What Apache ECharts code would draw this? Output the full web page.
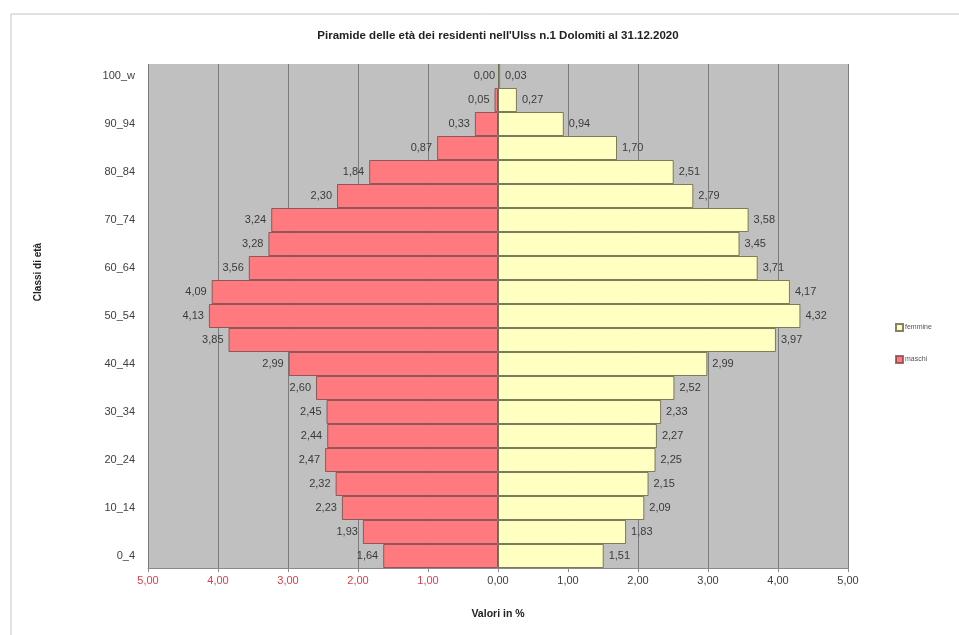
<!DOCTYPE html>
<html>
<head>
<meta charset="utf-8">
<script src="https://cdn.jsdelivr.net/npm/echarts@6/dist/echarts.min.js"></script>
<style>
  html, body { margin: 0; padding: 0; background: #ffffff; }
  #chart { width: 959px; height: 635px; }
</style>
</head>
<body>
<div id="chart"></div>
<script>
// Age classes, youngest first (bottom of the pyramid)
const classi = ['0_4','5_9','10_14','15_19','20_24','25_29','30_34','35_39','40_44','45_49',
  '50_54','55_59','60_64','65_69','70_74','75_79','80_84','85_89','90_94','95_99','100_w'];

// Share of residents in %, per class
const maschi = [1.64, 1.93, 2.23, 2.32, 2.47, 2.44, 2.45, 2.60, 2.99, 3.85,
  4.13, 4.09, 3.56, 3.28, 3.24, 2.30, 1.84, 0.87, 0.33, 0.05, 0.00];
const femmine = [1.51, 1.83, 2.09, 2.15, 2.25, 2.27, 2.33, 2.52, 2.99, 3.97,
  4.32, 4.17, 3.71, 3.45, 3.58, 2.79, 2.51, 1.70, 0.94, 0.27, 0.03];

const FONT = '"Liberation Sans", Arial, sans-serif';
const fmt = v => Math.abs(v).toFixed(2).replace('.', ',');

// Zero-width bars get no outline, so they leave no stray stroke on the axis
const asBar = (v, sign) => (v === 0
  ? { value: 0, itemStyle: { borderWidth: 0 } }
  : { value: sign * v });

const chart = echarts.init(document.getElementById('chart'), null, { renderer: 'canvas' });

chart.setOption({
  animation: false,
  backgroundColor: '#ffffff',
  textStyle: { fontFamily: FONT },
  title: {
    text: "Piramide delle età dei residenti nell'Ulss n.1 Dolomiti al 31.12.2020",
    left: 493, top: 25, textAlign: 'center',
    textStyle: { fontSize: 11.5, fontWeight: 'bold', color: '#222', fontFamily: FONT }
  },
  legend: {
    orient: 'vertical',
    left: 890, top: 318,
    itemWidth: 7, itemHeight: 7, itemGap: 23,
    icon: 'rect',
    data: ['femmine', 'maschi'],
    textStyle: { fontSize: 7, color: '#555', padding: [0, 0, 0, -3] }
  },
  graphic: [
    { type: 'rect', shape: { x: 11, y: 14, width: 1000, height: 700 },
      style: { fill: 'none', stroke: '#c4c4c4', lineWidth: 1 }, silent: true },
    { type: 'text', x: 38, y: 272, rotation: Math.PI / 2,
      style: { text: 'Classi di età', font: 'bold 10px ' + FONT, fill: '#222',
        textAlign: 'center', textVerticalAlign: 'middle' } }
  ],
  grid: { left: 148, right: 111, top: 64, bottom: 67, show: true,
    backgroundColor: '#c0c0c0', borderWidth: 0 },
  xAxis: {
    type: 'value', min: -5, max: 5, interval: 1,
    name: 'Valori in %', nameLocation: 'middle', nameGap: 41,
    nameTextStyle: { fontSize: 10.5, fontWeight: 'bold', color: '#222' },
    axisLine: { show: true, lineStyle: { color: '#8a8a8a' } },
    axisTick: { show: true, length: 4, lineStyle: { color: '#8a8a8a' } },
    splitLine: { show: true, lineStyle: { color: '#7c7c7c', width: 1 } },
    axisLabel: {
      fontSize: 11, margin: 7,
      formatter: v => fmt(v),
      color: v => (v < 0 ? '#e03c4c' : '#404040')
    }
  },
  yAxis: {
    type: 'category', data: classi,
    axisLine: { show: false }, axisTick: { show: false },
    axisLabel: { interval: 1, fontSize: 11, color: '#404040', margin: 13 }
  },
  series: [
    {
      name: 'femmine', type: 'bar', stack: 'pyr', barWidth: '100%',
      data: femmine.map(v => asBar(v, 1)),
      itemStyle: { color: '#ffffc2', borderColor: 'rgba(90,90,60,0.75)', borderWidth: 1 },
      label: { show: true, position: 'right', distance: 5, fontSize: 11, color: '#3a3a3a',
        formatter: p => fmt(p.value) }
    },
    {
      name: 'maschi', type: 'bar', stack: 'pyr', barWidth: '100%',
      data: maschi.map(v => asBar(v, -1)),
      itemStyle: { color: '#ff7a7e', borderColor: 'rgba(110,60,60,0.7)', borderWidth: 1 },
      label: { show: true, position: 'left', distance: 5, fontSize: 11, color: '#3a3a3a',
        formatter: p => fmt(p.value) }
    }
  ]
});
</script>
</body>
</html>
